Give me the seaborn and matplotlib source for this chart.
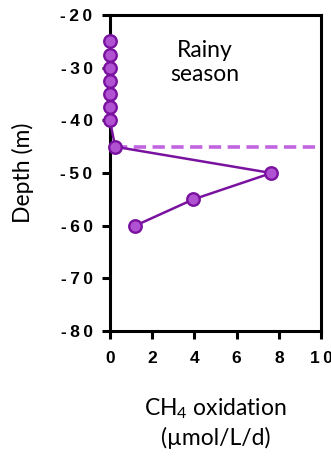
import matplotlib
matplotlib.use("Agg")
import matplotlib.pyplot as plt
import seaborn as sns
import pandas as pd

# CH4 oxidation rate profile through the water column (rainy season)
depth = [-25, -27.5, -30, -32.5, -35, -37.5, -40, -45, -50, -55, -60]
rate = [0, 0, 0, 0, 0, 0, 0, 0.25, 7.65, 3.95, 1.2]
oxycline_depth = -45
x_ticks = [0, 2, 4, 6, 8, 10]
y_ticks = [-20, -30, -40, -50, -60, -70, -80]

sns.set_style("ticks")
plt.rcParams["font.family"] = ["Lato", "DejaVu Sans"]
plt.rcParams["mathtext.fontset"] = "custom"
plt.rcParams["mathtext.rm"] = "Lato"
plt.rcParams["mathtext.it"] = "Lato:italic"
plt.rcParams["text.color"] = "black"
plt.rcParams["axes.labelcolor"] = "black"

df = pd.DataFrame({"depth": depth, "rate": rate})


def spaced(v):
    # tick labels with a little extra tracking between characters
    return "\u2009".join(str(v))


fig = plt.figure(figsize=(3.31, 4.59), dpi=100)
ax = fig.add_axes([0.332, 0.279, 0.638, 0.688])

line_col = "#7a12a0"
fill_col = "#b052d2"

ax.plot([rate[7], 10], [oxycline_depth, oxycline_depth], ls=(0, (3.4, 1.8)),
        color="#c064e0", lw=2.6, zorder=1, clip_on=False)

sns.lineplot(data=df, x="rate", y="depth", sort=False, estimator=None,
             ax=ax, color=line_col, lw=1.8, marker="o", markersize=9,
             markerfacecolor=fill_col, markeredgecolor=line_col,
             markeredgewidth=1.7, clip_on=False, zorder=3)

ax.set_xlim(0, 10)
ax.set_ylim(-80, -20)
ax.set_xticks(x_ticks)
ax.set_yticks(y_ticks)
ax.set_xticklabels([spaced(t) for t in x_ticks], fontfamily="Liberation Sans",
                   fontweight="bold", fontsize=12.5, color="black")
ax.set_yticklabels([spaced(t) for t in y_ticks], fontfamily="Liberation Sans",
                   fontweight="bold", fontsize=12.5, color="black")

for s in ax.spines.values():
    s.set_linewidth(2.2)
    s.set_color("black")
    s.set_visible(True)
ax.tick_params(axis="both", direction="out", length=5.5, width=2.2,
               colors="black", pad=7)
ax.tick_params(axis="x", pad=9)

ax.set_xlabel("CH$_4$ oxidation\n(µmol/L/d)", fontsize=16.5, labelpad=22,
              linespacing=1.3)
ax.set_ylabel("Depth (m)", fontsize=16.5)
ax.yaxis.set_label_coords(-0.36, 0.5)
ax.text(0.45, 0.85, "Rainy\nseason", transform=ax.transAxes, ha="center",
        va="center", fontsize=16.5, linespacing=1.2)

fig.savefig("out.png", dpi=100)
